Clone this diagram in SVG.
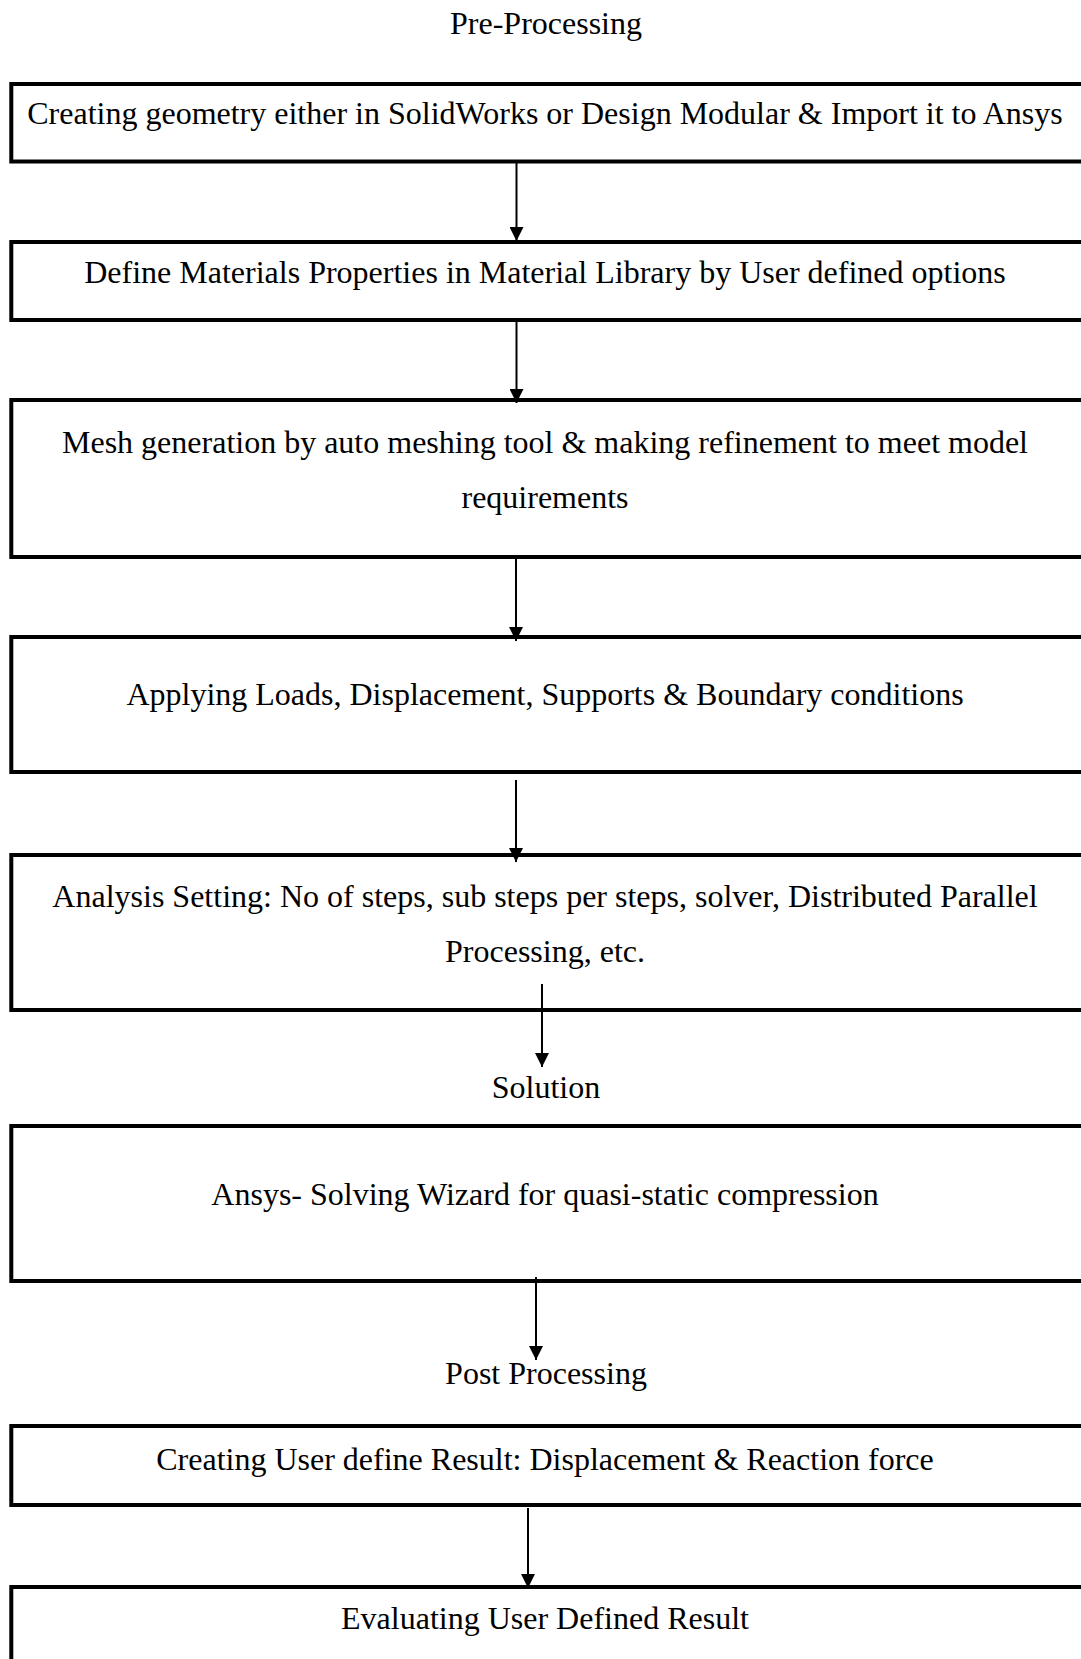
<svg xmlns="http://www.w3.org/2000/svg" width="1081" height="1659" viewBox="0 0 1081 1659">
<style>
.box{fill:none;stroke:#000;stroke-width:4}
.t{font-family:"Liberation Serif","Times New Roman",serif;font-size:32px;fill:#000;text-anchor:middle}
.c{stroke:#000;stroke-width:2;fill:none;marker-end:url(#ah)}
</style>
<defs>
<marker id="ah" viewBox="0 0 14 14" refX="14" refY="7" markerWidth="14" markerHeight="14" markerUnits="userSpaceOnUse" orient="auto">
<path d="M0,0 L14,7 L0,14 Z" fill="#000"/>
</marker>
</defs>
<rect width="1081" height="1659" fill="#fff"/>
<g id="lbl-pre"><text class="t" x="546" y="34">Pre-Processing</text></g>
<g id="n1"><rect class="box" x="11.3" y="84" width="1080" height="77.5"/>
<text class="t" x="545" y="124">Creating geometry either in SolidWorks or Design Modular &amp; Import it to Ansys</text></g>
<g id="n2"><rect class="box" x="11.3" y="242" width="1080" height="78"/>
<text class="t" x="545" y="283">Define Materials Properties in Material Library by User defined options</text></g>
<g id="n3"><rect class="box" x="11.3" y="400" width="1080" height="157"/>
<text class="t" x="545" y="453">Mesh generation by auto meshing tool &amp; making refinement to meet model</text>
<text class="t" x="545" y="508">requirements</text></g>
<g id="n4"><rect class="box" x="11.3" y="637" width="1080" height="135"/>
<text class="t" x="545" y="705">Applying Loads, Displacement, Supports &amp; Boundary conditions</text></g>
<g id="n5"><rect class="box" x="11.3" y="855" width="1080" height="155"/>
<text class="t" x="545" y="907">Analysis Setting: No of steps, sub steps per steps, solver, Distributed Parallel</text>
<text class="t" x="545" y="962">Processing, etc.</text></g>
<g id="lbl-sol"><text class="t" x="546" y="1098">Solution</text></g>
<g id="n6"><rect class="box" x="11.3" y="1126" width="1080" height="155"/>
<text class="t" x="545" y="1205">Ansys- Solving Wizard for quasi-static compression</text></g>
<g id="lbl-post"><text class="t" x="546" y="1384">Post Processing</text></g>
<g id="n7"><rect class="box" x="11.3" y="1426" width="1080" height="79"/>
<text class="t" x="545" y="1470">Creating User define Result: Displacement &amp; Reaction force</text></g>
<g id="n8"><rect class="box" x="11.3" y="1587" width="1080" height="90"/>
<text class="t" x="545" y="1629">Evaluating User Defined Result</text></g>
<g id="connectors">
<line class="c" x1="516.5" y1="163" x2="516.5" y2="241"/>
<line class="c" x1="516.5" y1="322" x2="516.5" y2="403"/>
<line class="c" x1="516" y1="558" x2="516" y2="641"/>
<line class="c" x1="516" y1="780" x2="516" y2="862"/>
<line class="c" x1="542" y1="984" x2="542" y2="1067"/>
<line class="c" x1="536" y1="1277" x2="536" y2="1360"/>
<line class="c" x1="528" y1="1508" x2="528" y2="1588"/>
</g>
</svg>
